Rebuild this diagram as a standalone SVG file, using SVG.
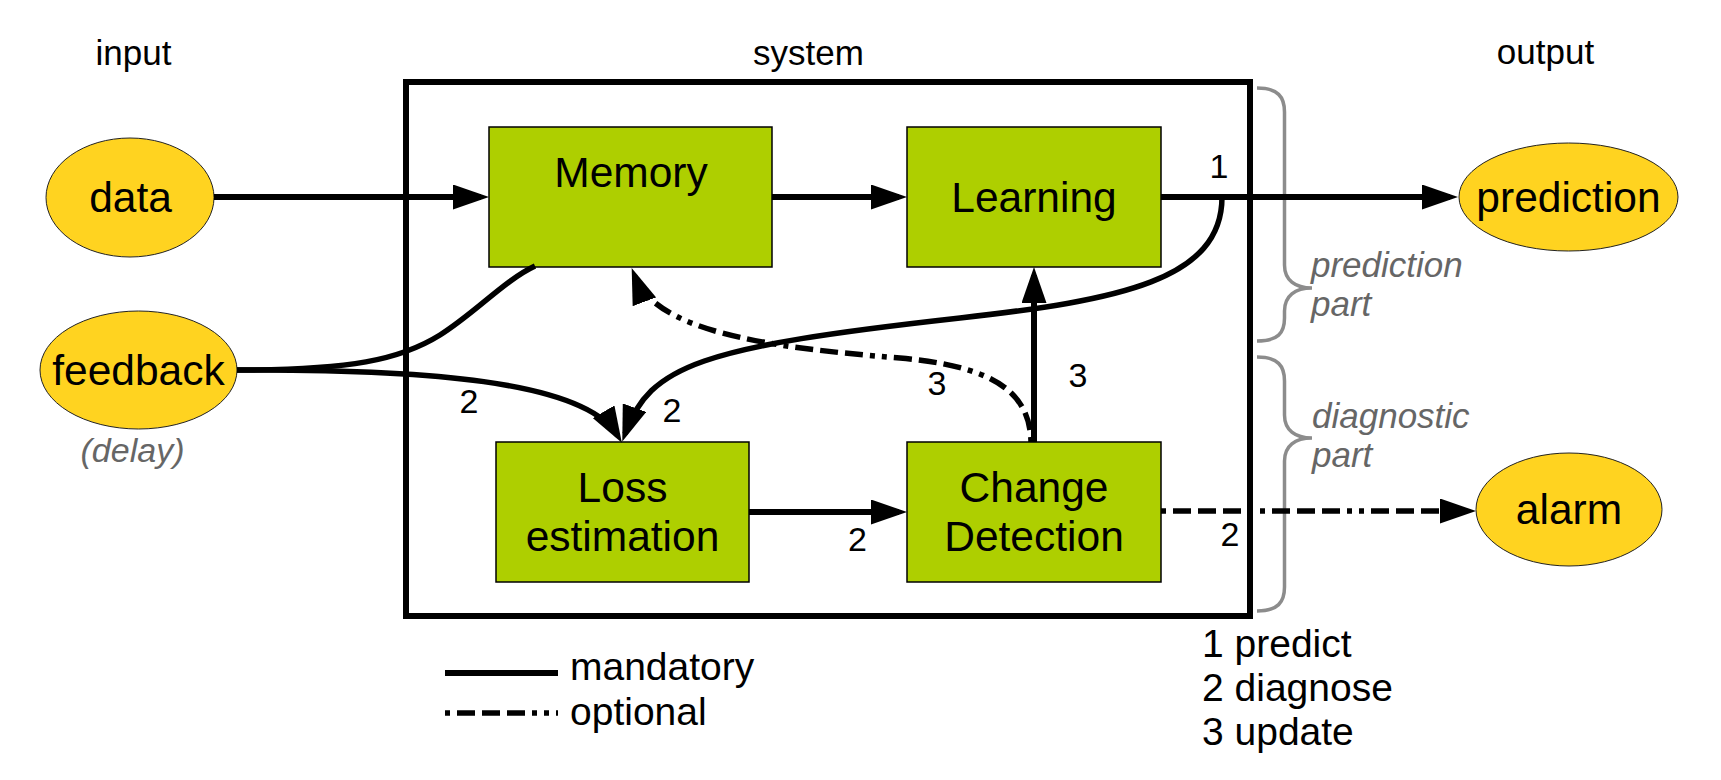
<svg xmlns="http://www.w3.org/2000/svg" width="1721" height="780" viewBox="0 0 1721 780">
<style>
text{font-family:"Liberation Sans",Arial,sans-serif;fill:#000}
.hdr{font-size:35px;text-anchor:middle}
.nt{font-size:42.5px;text-anchor:middle}
.lbl{font-size:34px;text-anchor:middle}
.leg{font-size:39px}
.it{font-size:35px;font-style:italic;fill:#666}
.box{fill:#AECF00;stroke:#000;stroke-width:1.5}
.ell{fill:#FFD320;stroke:#222;stroke-width:1}
.c{fill:none;stroke:#000;stroke-width:6}
.cc{fill:none;stroke:#000;stroke-width:5.5}
.dd{fill:none;stroke:#000;stroke-width:5.5;stroke-dasharray:5 7 18 7 18 7 18 7 5 7}
.brace{fill:none;stroke:#8c8c8c;stroke-width:3.5}
</style>
<defs>
<marker id="ah" viewBox="0 0 36 25" markerUnits="userSpaceOnUse" markerWidth="36" markerHeight="25" refX="28" refY="12.5" orient="auto">
<path d="M0,0 L36,12.5 L0,25 z" fill="#000"/>
</marker>
</defs>

<g id="headers">
<text class="hdr" x="133.5" y="65">input</text>
<text class="hdr" x="808.5" y="65">system</text>
<text class="hdr" x="1545.5" y="64">output</text>
</g>

<g id="system">
<rect x="406" y="82" width="844" height="534" fill="none" stroke="#000" stroke-width="6"/>
</g>

<g id="braces">
<path class="brace" d="M1257,88 C1278,88 1284.5,97 1284.5,112 L1284.5,265 C1284.5,280 1295,288 1312,288 C1295,288 1284.5,296 1284.5,311 L1284.5,318 C1284.5,333 1278,341 1257,341"/>
<path class="brace" d="M1257,357 C1278,357 1284.5,366 1284.5,381 L1284.5,415 C1284.5,430 1295,438 1312,438 C1295,438 1284.5,446 1284.5,461 L1284.5,587 C1284.5,602 1278,611 1257,611"/>
<text class="it" x="1311" y="277">prediction</text>
<text class="it" x="1311" y="316">part</text>
<text class="it" x="1312" y="428">diagnostic</text>
<text class="it" x="1312" y="467">part</text>
</g>

<g id="data">
<ellipse class="ell" cx="130" cy="197.5" rx="84" ry="59.5"/>
<text class="nt" x="130.5" y="212">data</text>
</g>
<g id="feedback">
<ellipse class="ell" cx="138.5" cy="370" rx="98.5" ry="59"/>
<text class="nt" x="138.5" y="385">feedback</text>
<text class="it" x="132.5" y="462" style="font-size:34px;text-anchor:middle">(delay)</text>
</g>
<g id="prediction">
<ellipse class="ell" cx="1568.5" cy="197" rx="109.5" ry="54"/>
<text class="nt" x="1568.5" y="212">prediction</text>
</g>
<g id="alarm">
<ellipse class="ell" cx="1569" cy="509.5" rx="93" ry="56.5"/>
<text class="nt" x="1569" y="524">alarm</text>
</g>
<g id="memory">
<rect class="box" x="489" y="127" width="283" height="140"/>
<text class="nt" x="631" y="187">Memory</text>
</g>
<g id="learning">
<rect class="box" x="907" y="127" width="254" height="140"/>
<text class="nt" x="1034" y="212">Learning</text>
</g>
<g id="loss">
<rect class="box" x="496" y="442" width="253" height="140"/>
<text class="nt" x="622.5" y="502">Loss</text>
<text class="nt" x="622.5" y="551">estimation</text>
</g>
<g id="change">
<rect class="box" x="907" y="442" width="254" height="140"/>
<text class="nt" x="1034" y="502">Change</text>
<text class="nt" x="1034" y="551">Detection</text>
</g>

<g id="connectors">
<path class="c" d="M214,197 H481" marker-end="url(#ah)"/>
<path class="c" d="M772,197 H899" marker-end="url(#ah)"/>
<path class="c" d="M1161,197 H1450" marker-end="url(#ah)"/>
<path class="c" d="M749,512 H899" marker-end="url(#ah)"/>
<path class="c" d="M1034,442 V275" marker-end="url(#ah)"/>
<path class="dd" d="M1161,511 H1468" marker-end="url(#ah)"/>
<path class="cc" d="M237,370 C350,370 400,360 440,335 C475,313 505,280 535,266"/>
<path class="cc" d="M237,370 C420,369 585,380 617.8,435.9" marker-end="url(#ah)"/>
<path class="cc" d="M1222,197 C1222,280 1120,300 960,318 C700,347 650,365 625,434" marker-end="url(#ah)"/>
<path class="dd" d="M1031,442 C1030,390 990,366 900,358 C760,347 655,330 634.5,275.6" marker-end="url(#ah)"/>
</g>

<g id="labels">
<text class="lbl" x="1219" y="178">1</text>
<text class="lbl" x="469" y="413">2</text>
<text class="lbl" x="672" y="422">2</text>
<text class="lbl" x="937" y="395">3</text>
<text class="lbl" x="1078" y="387">3</text>
<text class="lbl" x="857.5" y="551">2</text>
<text class="lbl" x="1230" y="546">2</text>
</g>

<g id="legend">
<line x1="445" y1="673" x2="558" y2="673" stroke="#000" stroke-width="6"/>
<line class="dd" x1="445" y1="713" x2="558" y2="713"/>
<text class="leg" x="570" y="680">mandatory</text>
<text class="leg" x="570" y="725">optional</text>
<text class="leg" x="1202" y="657">1 predict</text>
<text class="leg" x="1202" y="701">2 diagnose</text>
<text class="leg" x="1202" y="745">3 update</text>
</g>
</svg>
